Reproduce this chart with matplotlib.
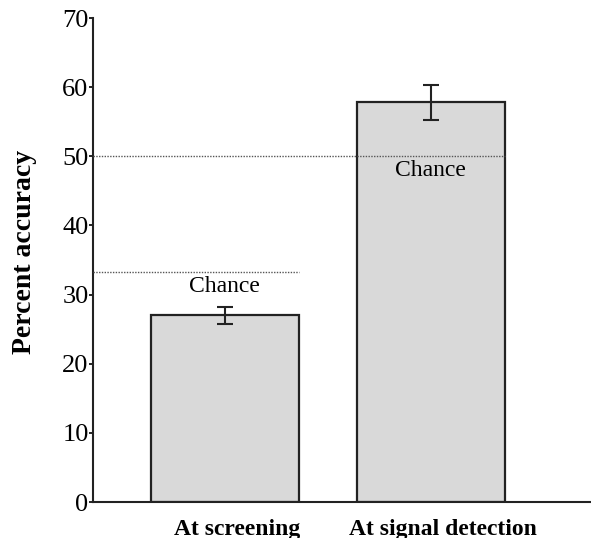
import numpy as np
import matplotlib
matplotlib.use('Agg')
import matplotlib.pyplot as plt
import matplotlib.transforms as mtransforms

# data
conditions = ['At screening', 'At signal detection']
accuracy = [27.0, 57.8]
errors = [1.2, 2.5]
chance = [33.3, 50.0]

plt.rcParams['font.family'] = ['Liberation Serif', 'DejaVu Serif']

fig = plt.figure(figsize=(5.91, 5.38), dpi=100)
ax = fig.add_axes([0.157, 0.0669, 0.843, 0.8996])

pos = np.array([1.0, 2.0])
width = 0.72
ax.bar(pos, accuracy, width=width, color='#d9d9d9', edgecolor='#222222', linewidth=1.6, zorder=2)
ax.errorbar(pos, accuracy, yerr=errors, fmt='none', ecolor='#222222',
            elinewidth=1.5, capsize=6, capthick=1.5, zorder=3)

# chance lines run from the y axis to the right edge of each bar
for p, c in zip(pos, chance):
    ax.plot([0.359, p + width / 2], [c, c], linestyle=(0, (1, 1)), color='#555555',
            linewidth=1.0, zorder=4)
    ax.text(p, c - 0.6, 'Chance', ha='center', va='top', fontsize=17, zorder=5)

ax.set_xlim(0.359, 2.777)
ax.set_ylim(0, 70)
ax.set_yticks(np.arange(0, 71, 10))
ax.tick_params(axis='y', labelsize=19, length=3, width=1.2, pad=0, direction='out')
ax.set_xticks(pos)
ax.set_xticklabels(conditions, fontsize=17, fontweight='bold')
ax.tick_params(axis='x', length=0, pad=12)
offset = mtransforms.ScaledTranslation(12 / 100, 0, fig.dpi_scale_trans)
for lbl in ax.get_xticklabels():
    lbl.set_transform(lbl.get_transform() + offset)

ax.set_ylabel('Percent accuracy', fontsize=20, fontweight='bold')
ax.yaxis.set_label_coords(-0.112, 0.517)

for side in ['top', 'right']:
    ax.spines[side].set_visible(False)
for side in ['left', 'bottom']:
    ax.spines[side].set_linewidth(1.5)
    ax.spines[side].set_color('#222222')

fig.savefig('out.png', dpi=100)
